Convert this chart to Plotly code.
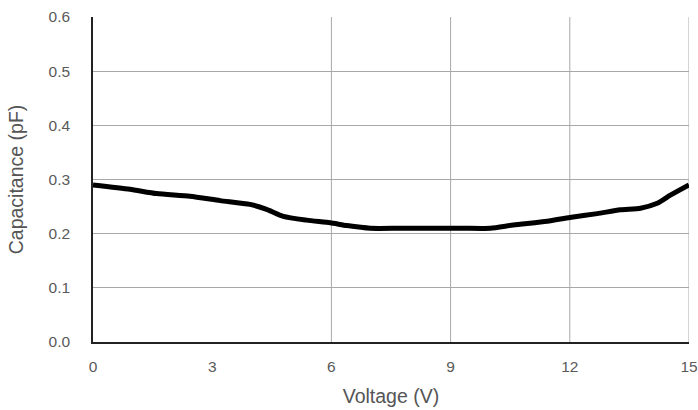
import plotly.graph_objects as go

voltage = [0, 0.93, 1.6, 2.44, 3.2, 3.95, 4.37, 4.79, 5.38, 5.97, 6.39, 6.98, 7.73, 8.5, 9.3, 10.0, 10.58, 11.43, 12.0, 12.69, 13.27, 13.78, 14.2, 14.53, 15.0]
capacitance = [0.290, 0.282, 0.274, 0.269, 0.261, 0.254, 0.245, 0.232, 0.225, 0.220, 0.215, 0.210, 0.210, 0.210, 0.210, 0.210, 0.216, 0.223, 0.230, 0.237, 0.244, 0.247, 0.256, 0.271, 0.290]

x_ticks = [0, 3, 6, 9, 12, 15]
y_ticks = [0.0, 0.1, 0.2, 0.3, 0.4, 0.5, 0.6]
y_tick_labels = ["0.0", "0.1", "0.2", "0.3", "0.4", "0.5", "0.6"]
x_grid = [6, 9, 12, 15]

fig = go.Figure()
fig.add_trace(go.Scatter(x=voltage, y=capacitance, mode="lines",
                         line=dict(color="black", width=5, shape="spline", smoothing=0.6),
                         showlegend=False, hoverinfo="skip", cliponaxis=False))

for gx in x_grid:
    fig.add_shape(type="line", x0=gx, x1=gx, y0=0, y1=0.6, xref="x", yref="y",
                  line=dict(color="#a8a8a8", width=1), layer="below")

fig.update_layout(
    width=698, height=410,
    margin=dict(l=93, r=9, t=17, b=68, autoexpand=False),
    paper_bgcolor="white", plot_bgcolor="white",
    font=dict(family="Liberation Sans, Arial, sans-serif", size=15, color="#5a5a5a"),
    xaxis=dict(range=[0, 15], tickvals=x_ticks, ticktext=[str(v) for v in x_ticks],
               showgrid=False, zeroline=False, showline=True, linecolor="#222222", linewidth=1.5,
               ticks="", ticklabelstandoff=10, automargin=False,
               tickfont=dict(size=15.5, color="#5a5a5a"),
               title=dict(text="Voltage (V)", standoff=15, font=dict(size=19.5, color="#555555"))),
    yaxis=dict(range=[0, 0.6], tickvals=y_ticks, ticktext=y_tick_labels,
               showgrid=True, gridcolor="#a8a8a8", gridwidth=1, zeroline=False,
               showline=True, linecolor="#222222", linewidth=1.5, ticks="",
               ticklabelstandoff=18, automargin=False,
               tickfont=dict(size=15.5, color="#5a5a5a"),
               title=dict(text="Capacitance (pF)", standoff=20, font=dict(size=19.5, color="#555555"))),
)

fig.write_html("out.html", config={"displayModeBar": False},
               post_script="document.body.style.margin='0';document.body.style.overflow='hidden';")
